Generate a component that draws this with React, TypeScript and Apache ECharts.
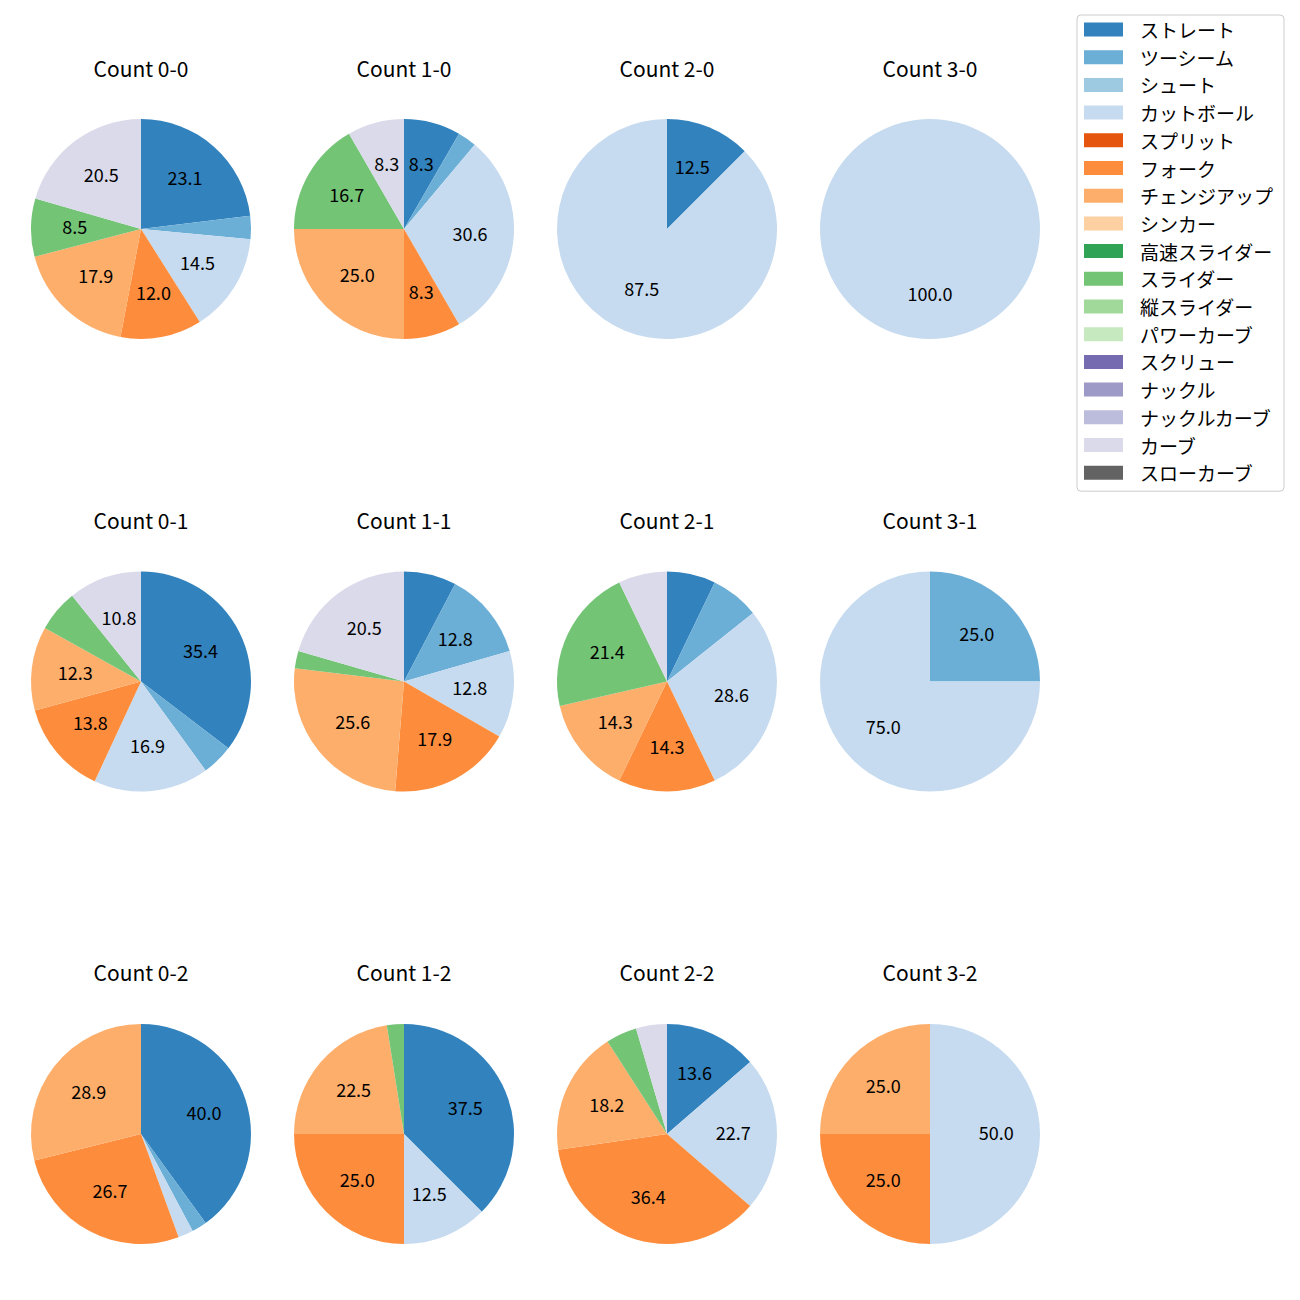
import React, { useEffect, useRef } from "react";
import * as echarts from "echarts";

const categories = [
  "ストレート", "ツーシーム", "シュート", "カットボール", "スプリット", "フォーク",
  "チェンジアップ", "シンカー", "高速スライダー", "スライダー", "縦スライダー",
  "パワーカーブ", "スクリュー", "ナックル", "ナックルカーブ", "カーブ", "スローカーブ",
];
const colors = [
  "#3182bd", "#6baed6", "#9ecae1", "#c6dbef", "#e6550d", "#fd8d3c", "#fdae6b",
  "#fdd0a2", "#31a354", "#74c476", "#a1d99b", "#c7e9c0", "#756bb1", "#9e9ac8",
  "#bcbddc", "#dadaeb", "#636363",
];

// pitch counts per category (order as categories)
const count00 = [27, 4, 0, 17, 0, 14, 21, 0, 0, 10, 0, 0, 0, 0, 0, 24, 0];
const count10 = [3, 1, 0, 11, 0, 3, 9, 0, 0, 6, 0, 0, 0, 0, 0, 3, 0];
const count20 = [1, 0, 0, 7, 0, 0, 0, 0, 0, 0, 0, 0, 0, 0, 0, 0, 0];
const count30 = [0, 0, 0, 1, 0, 0, 0, 0, 0, 0, 0, 0, 0, 0, 0, 0, 0];
const count01 = [23, 3, 0, 11, 0, 9, 8, 0, 0, 4, 0, 0, 0, 0, 0, 7, 0];
const count11 = [3, 5, 0, 5, 0, 7, 10, 0, 0, 1, 0, 0, 0, 0, 0, 8, 0];
const count21 = [1, 1, 0, 4, 0, 2, 2, 0, 0, 3, 0, 0, 0, 0, 0, 1, 0];
const count31 = [0, 1, 0, 3, 0, 0, 0, 0, 0, 0, 0, 0, 0, 0, 0, 0, 0];
const count02 = [18, 1, 0, 1, 0, 12, 13, 0, 0, 0, 0, 0, 0, 0, 0, 0, 0];
const count12 = [15, 0, 0, 5, 0, 10, 9, 0, 0, 1, 0, 0, 0, 0, 0, 0, 0];
const count22 = [3, 0, 0, 5, 0, 8, 4, 0, 0, 1, 0, 0, 0, 0, 0, 1, 0];
const count32 = [0, 0, 0, 2, 0, 1, 1, 0, 0, 0, 0, 0, 0, 0, 0, 0, 0];

const panels = [
  { title: "Count 0-0", values: count00, col: 0, row: 0 },
  { title: "Count 1-0", values: count10, col: 1, row: 0 },
  { title: "Count 2-0", values: count20, col: 2, row: 0 },
  { title: "Count 3-0", values: count30, col: 3, row: 0 },
  { title: "Count 0-1", values: count01, col: 0, row: 1 },
  { title: "Count 1-1", values: count11, col: 1, row: 1 },
  { title: "Count 2-1", values: count21, col: 2, row: 1 },
  { title: "Count 3-1", values: count31, col: 3, row: 1 },
  { title: "Count 0-2", values: count02, col: 0, row: 2 },
  { title: "Count 1-2", values: count12, col: 1, row: 2 },
  { title: "Count 2-2", values: count22, col: 2, row: 2 },
  { title: "Count 3-2", values: count32, col: 3, row: 2 },
];

const FONT = "'Noto Sans CJK JP', 'Noto Sans', sans-serif";
const colX = [141, 404, 667, 930];
const rowY = [229, 681.5, 1134];
const titleY = [67.5, 519.5, 972];
const R = 110;

export default function App() {
  const ref = useRef<HTMLDivElement>(null);
  useEffect(() => {
    if (!ref.current) return;
    const chart = echarts.init(ref.current, undefined, { renderer: "svg" });
    const baseSeries: any[] = [];
    const labelSeries: any[] = [];
    const graphics: any[] = [];
    panels.forEach((p) => {
      const total = p.values.reduce((a, b) => a + b, 0);
      const center = [colX[p.col], rowY[p.row]];
      baseSeries.push({
        type: "pie",
        center,
        radius: [0, R],
        startAngle: 90,
        clockwise: true,
        silent: true,
        animation: false,
        label: { show: false },
        labelLine: { show: false },
        itemStyle: { borderWidth: 0 },
        emphasis: { disabled: true },
        data: categories.map((c, i) => ({
          name: c,
          value: p.values[i],
          itemStyle: { color: colors[i], borderWidth: 0 },
        })),
      });
      labelSeries.push({
        type: "pie",
        center,
        radius: [R * 0.15, R],
        startAngle: 90,
        clockwise: true,
        silent: true,
        animation: false,
        labelLine: { show: false },
        emphasis: { disabled: true },
        itemStyle: { color: "rgba(0,0,0,0)", borderWidth: 0 },
        data: categories.map((c, i) => {
          const pct = (p.values[i] / total) * 100;
          return {
            name: c + "#",
            value: p.values[i],
            label: {
              show: pct >= 8,
              position: "inside",
              formatter: pct.toFixed(1),
              color: "#000",
              fontSize: 18,
              fontFamily: FONT,
              offset: [0, -2],
            },
          };
        }),
      });
      graphics.push({
        type: "text",
        x: colX[p.col],
        y: titleY[p.row],
        style: {
          text: p.title,
          fill: "#000",
          font: `21px ${FONT}`,
          align: "center",
          verticalAlign: "middle",
        },
      });
    });
    chart.setOption({
      animation: false,
      backgroundColor: "#fff",
      legend: {
        orient: "vertical",
        left: 1077,
        top: 15,
        padding: [5, 11, 9, 7],
        itemWidth: 39,
        itemHeight: 14,
        itemGap: 8.7,
        icon: "rect",
        selectedMode: false,
        borderColor: "#cccccc",
        borderWidth: 1,
        borderRadius: 4,
        textStyle: {
          fontSize: 19,
          fontFamily: FONT,
          color: "#000",
          padding: [0, 0, 0, 12],
        },
        data: categories,
      },
      graphic: graphics,
      series: [...baseSeries, ...labelSeries],
    });
    return () => chart.dispose();
  }, []);
  return (
    <div
      ref={ref}
      style={{ position: "fixed", left: 0, top: 0, width: 1300, height: 1300 }}
    />
  );
}
